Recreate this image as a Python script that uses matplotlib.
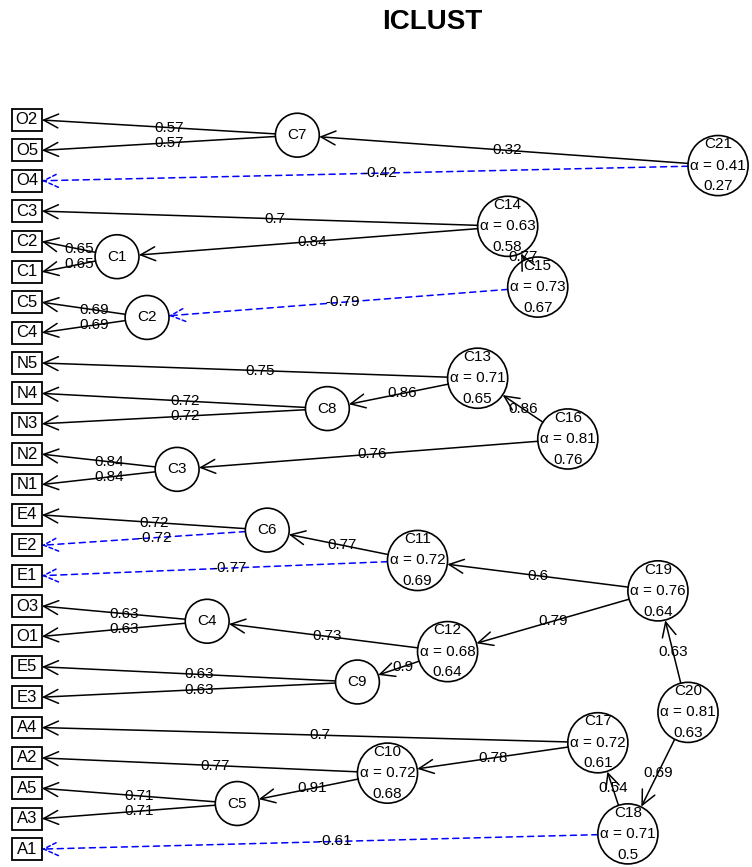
import matplotlib.pyplot as plt
import matplotlib.patches as mpatches
import numpy as np

plt.rcParams['font.family'] = ['Liberation Sans', 'DejaVu Sans']

# item order down the left side
variables = ['O2', 'O5', 'O4', 'C3', 'C2', 'C1', 'C5', 'C4', 'N5', 'N4', 'N3',
             'N2', 'N1', 'E4', 'E2', 'E1', 'O3', 'O1', 'E5', 'E3', 'A4', 'A2',
             'A5', 'A3', 'A1']

# clusters C1..C21: row (in item slots), alpha, beta (None = 2-item cluster)
cluster_slot = [4.5, 6.5, 11.5, 16.5, 22.5, 13.5, 0.5, 9.5, 18.5, 21.5, 14.5,
                17.5, 8.5, 3.5, 5.5, 10.5, 20.5, 23.5, 15.5, 19.5, 1.5]
cluster_alpha = [None] * 9 + [0.72, 0.72, 0.68, 0.71, 0.63, 0.73, 0.81, 0.72,
                              0.71, 0.76, 0.81, 0.41]
cluster_beta = [None] * 9 + [0.68, 0.69, 0.64, 0.65, 0.58, 0.67, 0.76, 0.61,
                             0.5, 0.64, 0.63, 0.27]

# edges: parent cluster number -> child (int = cluster, str = item)
edge_parent = [1, 1, 2, 2, 3, 3, 4, 4, 5, 5, 6, 6, 7, 7, 8, 8, 9, 9, 10, 10,
               11, 11, 12, 12, 13, 13, 14, 14, 15, 15, 16, 16, 17, 17, 18, 18,
               19, 19, 20, 20, 21, 21]
edge_child = ['C2', 'C1', 'C5', 'C4', 'N2', 'N1', 'O3', 'O1', 'A5', 'A3',
              'E4', 'E2', 'O2', 'O5', 'N4', 'N3', 'E5', 'E3', 'A2', 5,
              6, 'E1', 4, 9, 'N5', 8, 'C3', 1, 14, 2, 13, 3, 'A4', 10,
              17, 'A1', 11, 12, 19, 18, 7, 'O4']
edge_loading = [0.65, 0.65, 0.69, 0.69, 0.84, 0.84, 0.63, 0.63, 0.71, 0.71,
                0.72, -0.72, 0.57, 0.57, 0.72, 0.72, 0.63, 0.63, 0.77, 0.91,
                0.77, -0.77, 0.73, 0.9, 0.75, 0.86, 0.7, 0.84, 0.77, -0.79,
                0.86, 0.76, 0.7, 0.78, 0.54, -0.61, 0.6, 0.79, 0.63, 0.69,
                0.32, -0.42]

VAR_X = -2
R_SMALL, R_BIG = 0.73, 1.0
FS = 11
HEAD = '->,head_length=1.05,head_width=0.5'


def center(n):
    if isinstance(n, str):
        return np.array([VAR_X, variables.index(n)], float)
    return np.array([n, cluster_slot[n - 1]], float)


def radius(n):
    return R_SMALL if cluster_alpha[n - 1] is None else R_BIG


fig = plt.figure(figsize=(7.52, 8.67), dpi=100)
ax = fig.add_axes([0, 0, 1, 1])
ax.set_xlim(-2.894, 22.13)
ax.set_ylim(24.59, -3.95)
ax.axis('off')

fig.text(432 / 752, 1 - 22 / 867, 'ICLUST', ha='center', va='center',
         fontsize=20, fontweight='bold')

# edges
for p, c, w in zip(edge_parent, edge_child, edge_loading):
    P = center(p)
    if isinstance(c, str):
        end = center(c) + np.array([0.5, 0])
        mid = (P + end) / 2
    else:
        T = center(c)
        u = (P - T) / np.hypot(*(P - T))
        end = T + radius(c) * u
        mid = (P + T) / 2
    d = end - P
    unit = d / np.hypot(*d)
    start = P + radius(p) * unit
    if w < 0:
        ax.add_patch(mpatches.FancyArrowPatch(
            start, end, arrowstyle='-', shrinkA=0, shrinkB=0, lw=1.1,
            color='#0000FF', linestyle=(0, (4, 3))))
        ax.add_patch(mpatches.FancyArrowPatch(
            end - 0.01 * unit, end, arrowstyle=HEAD, mutation_scale=10,
            shrinkA=0, shrinkB=0, lw=1.1, color='#0000FF',
            linestyle=(0, (2.5, 1.8))))
    else:
        ax.add_patch(mpatches.FancyArrowPatch(
            start, end, arrowstyle=HEAD, mutation_scale=10,
            shrinkA=0, shrinkB=0, lw=1.1, color='black'))
    ax.text(mid[0], mid[1], f'{w:g}', ha='center', va='center', fontsize=FS)

# item boxes
for i, v in enumerate(variables):
    ax.add_patch(mpatches.Rectangle((VAR_X - 0.5, i - 0.36), 1.0, 0.72,
                                    fill=False, lw=1.3, ec='black'))
    ax.text(VAR_X, i, v, ha='center', va='center', fontsize=12)

# cluster circles
for k in range(1, 22):
    cx, cy = center(k)
    r = radius(k)
    ax.add_patch(mpatches.Ellipse((cx, cy), 2 * r, 2 * r * 30.05 / 30.375,
                                  fill=False, lw=1.2, ec='black'))
    if cluster_alpha[k - 1] is None:
        ax.text(cx, cy, f'C{k}', ha='center', va='center', fontsize=FS)
    else:
        ax.text(cx, cy - 0.7, f'C{k}', ha='center', va='center', fontsize=FS)
        ax.text(cx, cy, f'α = {cluster_alpha[k - 1]:g}', ha='center',
                va='center', fontsize=FS)
        ax.text(cx, cy + 0.68, f'{cluster_beta[k - 1]:g}', ha='center',
                va='center', fontsize=FS)

fig.savefig('out.png', dpi=100)
